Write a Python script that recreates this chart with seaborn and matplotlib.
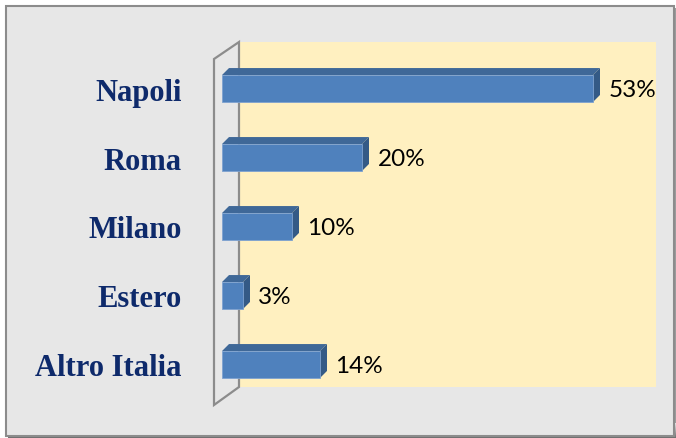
import matplotlib.pyplot as plt
import matplotlib.patches as mpatches
import seaborn as sns
import numpy as np

cities = ['Napoli', 'Roma', 'Milano', 'Estero', 'Altro Italia']
shares = [53, 20, 10, 3, 14]

W, H = 676, 439
fig = plt.figure(figsize=(W / 100, H / 100), dpi=100)
fig.patch.set_facecolor('white')

# frame around the chart, drawn in pixel coordinates
bg = fig.add_axes([0, 0, 1, 1])
bg.set_xlim(0, W)
bg.set_ylim(H, 0)
bg.axis('off')
bg.add_patch(mpatches.Rectangle((6, 7), 668, 430, facecolor='#e7e7e7',
                                edgecolor='#8c8c8c', lw=1.5))


def band(x0, x1, y0, y1, c0, c1, vertical):
    n = 32
    g = np.linspace(0, 1, n)
    a = np.array(plt.matplotlib.colors.to_rgb(c0))
    b = np.array(plt.matplotlib.colors.to_rgb(c1))
    cols = a[None, :] * (1 - g[:, None]) + b[None, :] * g[:, None]
    img = cols[:, None, :] if vertical else cols[None, :, :]
    bg.imshow(img, extent=(x0, x1, y1, y0), aspect='auto', interpolation='bilinear')


band(8, 668, 8.5, 20, '#ffffff', '#e7e7e7', True)
band(7, 18, 9, 428, '#c8c8c8', '#e7e7e7', False)
band(664, 676, 9, 437, '#e7e7e7', '#9a9a9a', False)
band(8, 676, 424, 439, '#e7e7e7', '#6e6e6e', True)
bg.set_xlim(0, W)
bg.set_ylim(H, 0)

# chart axes: 7 px per percent, 69 px per category
ax = fig.add_axes([200 / W, (H - 420) / H, 470 / W, 390 / H])
ax.set_facecolor('none')

sns.barplot(x=shares, y=cities, orient='h', width=0.39, color='#4f81bd',
            edgecolor='#7ea2d0', linewidth=0.6, saturation=1, ax=ax, zorder=4)

ax.set_xlim(-22 / 7, 448 / 7)
ax.set_ylim((420 - 89.5) / 69, (30 - 89.5) / 69)

dx = 1.0
dy = -7 / 69

# back wall and side wall
bx, by0, by1 = 17 / 7, (43 - 89.5) / 69, (388 - 89.5) / 69
ax.add_patch(mpatches.Rectangle((bx, by0), (656 - 239) / 7, by1 - by0,
                                facecolor='#fff0c0', edgecolor='none', zorder=1))
fx, fy0, fy1 = -8 / 7, (60 - 89.5) / 69, (406 - 89.5) / 69
ax.add_patch(mpatches.Polygon([(bx, by0), (fx, fy0), (fx, fy1), (bx, by1)],
                              closed=True, facecolor='none', edgecolor='#8c8c8c',
                              lw=1.6, zorder=2, clip_on=False))

for p, v in zip(ax.patches, shares):
    x0 = p.get_x()
    w = p.get_width()
    yt = p.get_y()
    yb = yt + p.get_height()
    top = [(x0, yt), (x0 + w, yt), (x0 + w + dx, yt + dy), (x0 + dx, yt + dy)]
    side = [(x0 + w, yt), (x0 + w + dx, yt + dy), (x0 + w + dx, yb + dy), (x0 + w, yb)]
    ax.add_patch(mpatches.Polygon(top, closed=True, facecolor='#3f6898',
                                  edgecolor='none', zorder=3))
    ax.add_patch(mpatches.Polygon(side, closed=True, facecolor='#345a86',
                                  edgecolor='none', zorder=3))
    ax.text(x0 + w + dx + 1.2, (yt + yb) / 2 + 0.02, f'{v}%', va='center', ha='left',
            fontsize=17.5, family='Lato', color='black', zorder=5)

for s in ax.spines.values():
    s.set_visible(False)
ax.set_xticks([])
ax.set_xlabel('')
ax.set_ylabel('')
ax.tick_params(axis='y', length=0, pad=13)
for t in ax.get_yticklabels():
    t.set_family('Liberation Serif')
    t.set_fontweight('bold')
    t.set_fontsize(22)
    t.set_color('#0e2a6b')

fig.savefig('out.png', dpi=100)
